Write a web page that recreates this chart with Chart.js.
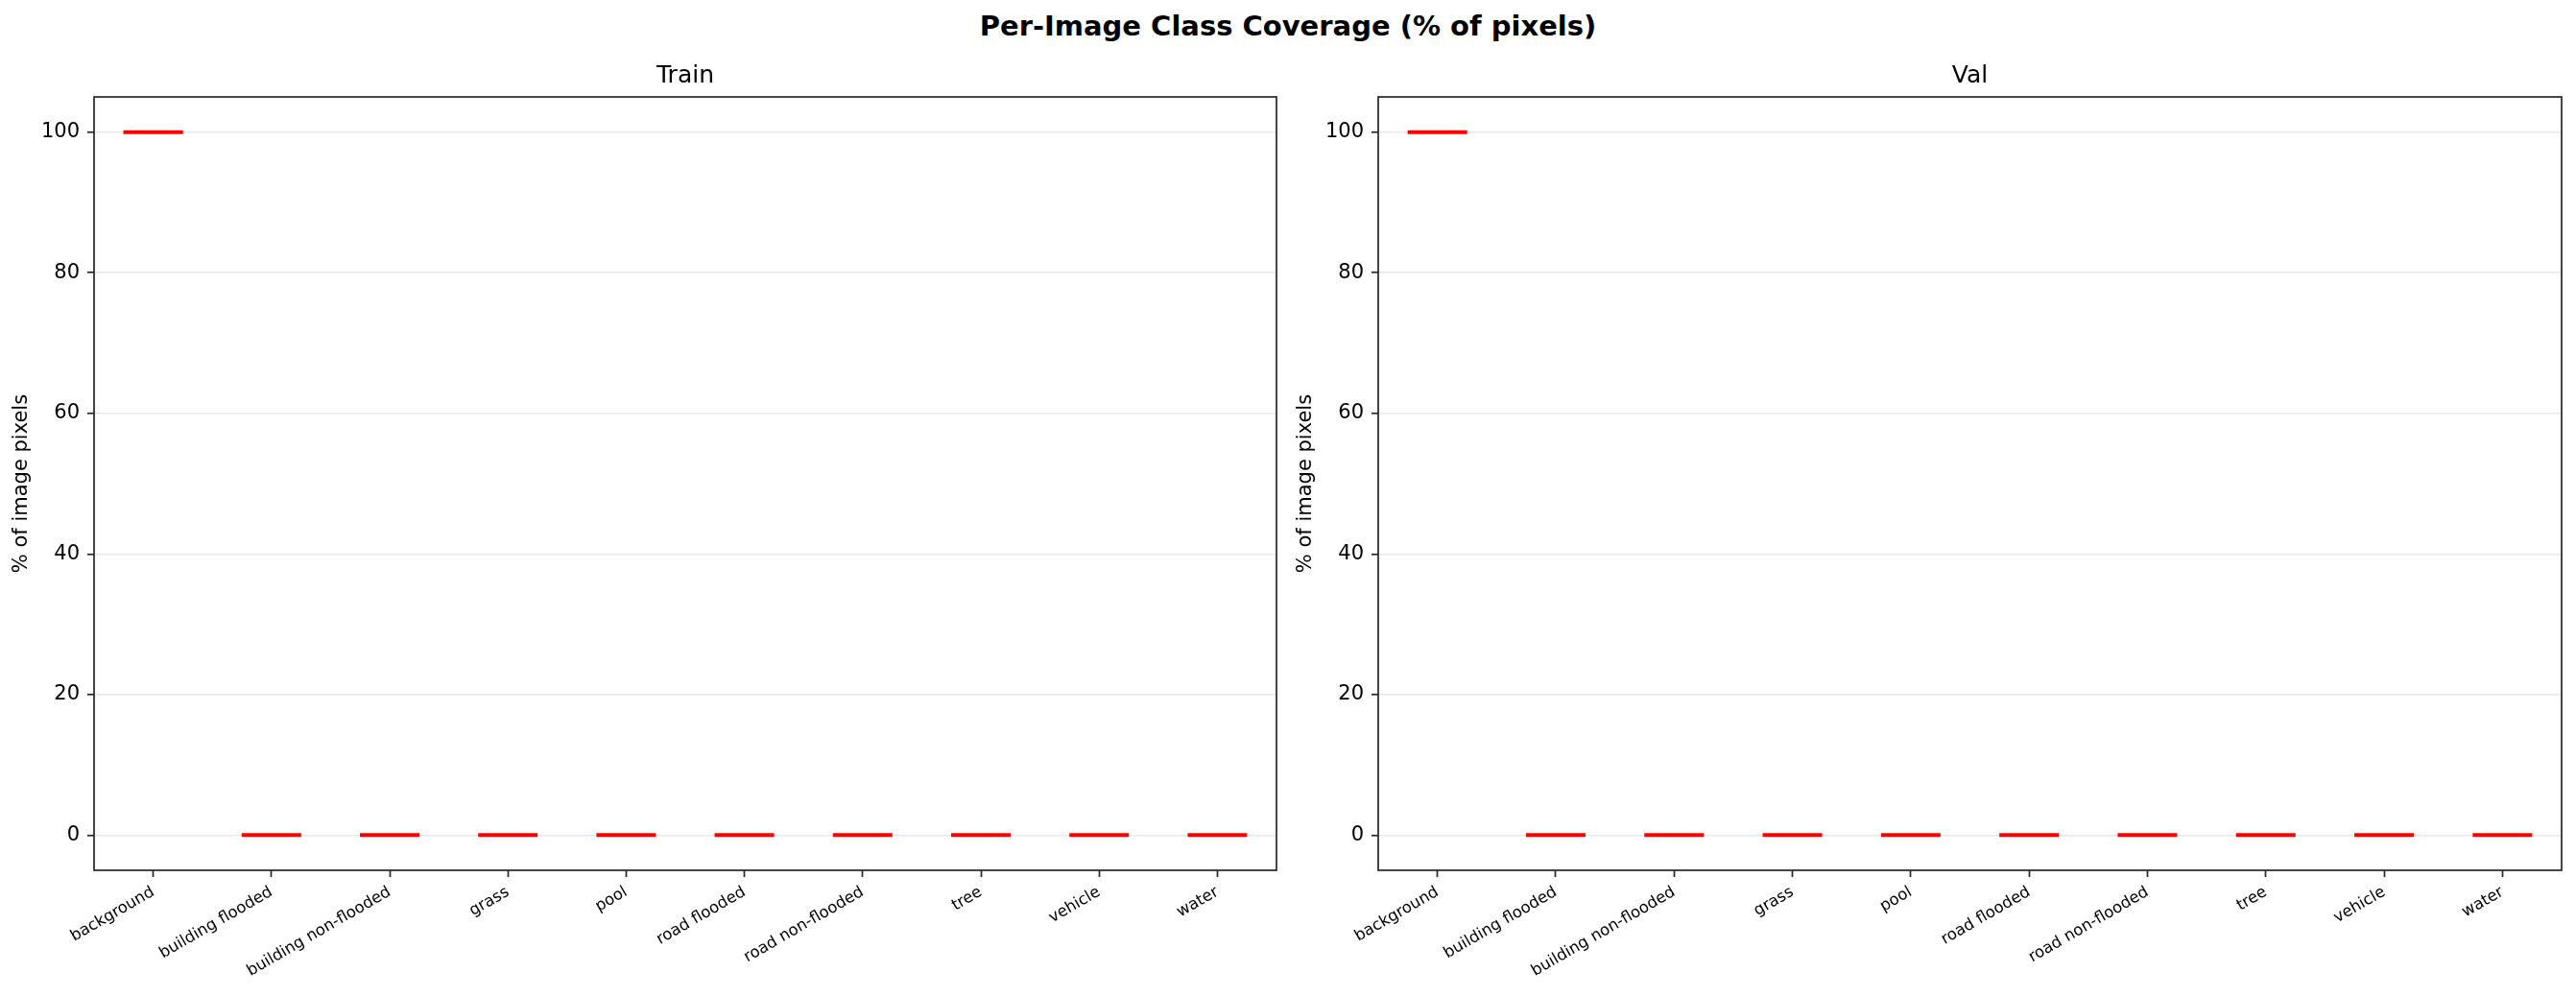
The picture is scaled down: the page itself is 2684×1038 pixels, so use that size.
<!DOCTYPE html>
<html>
<head>
<meta charset="utf-8">
<style>
    body { margin: 0; background: #ffffff; }
    .figure { position: relative; width: 2684px; height: 1038px; overflow: hidden; }
    .figure--title {
        position: absolute; left: 0; top: 13px; width: 2684px;
        text-align: center; font: bold 29px "DejaVu Sans"; line-height: 29px; color: #000;
    }
    .figure canvas { position: absolute; top: 0; }
    #train { left: 0; }
    #val { left: 1338px; }
</style>
</head>
<body>
<div class="figure">
    <div class="figure--title">Per-Image Class Coverage (% of pixels)</div>
    <canvas id="train" width="1342" height="1038"></canvas>
    <canvas id="val" width="1343" height="1038"></canvas>
</div>
<script src="https://cdn.jsdelivr.net/npm/chart.js"></script>
<script>
    //class names along the x axis
    const classNames = ['background', 'building flooded', 'building non-flooded', 'grass', 'pool',
        'road flooded', 'road non-flooded', 'tree', 'vehicle', 'water'];
    //median coverage per class (boxes collapse onto the median)
    const trainMedian = [100, 0, 0, 0, 0, 0, 0, 0, 0, 0];
    const valMedian = [100, 0, 0, 0, 0, 0, 0, 0, 0, 0];
    const yTicks = [0, 20, 40, 60, 80, 100];

    const frameColor = '#262626';

    //draw the axes frame on all four sides
    const frameBox = {
        id: 'frameBox',
        afterDraw(chart) {
            const {ctx, chartArea: a} = chart;
            ctx.save();
            ctx.strokeStyle = frameColor;
            ctx.lineWidth = 1.7;
            ctx.strokeRect(a.left, a.top, a.right - a.left, a.bottom - a.top);
            ctx.restore();
        }
    };

    function makePanel(canvasId, title, medians) {
        new Chart(document.getElementById(canvasId), {
            type: 'line',
            data: {
                labels: classNames,
                datasets: [{
                    data: medians,
                    showLine: false,
                    pointStyle: 'line',
                    pointRadius: 31,
                    pointHoverRadius: 31,
                    pointBorderWidth: 4,
                    pointHoverBorderWidth: 4,
                    pointBorderColor: '#ff0000',
                    borderColor: '#ff0000'
                }]
            },
            options: {
                responsive: false,
                devicePixelRatio: 1,
                animation: false,
                events: [],
                layout: { autoPadding: false, padding: { top: 0, right: 12, bottom: 0, left: 0 } },
                plugins: {
                    legend: { display: false },
                    tooltip: { enabled: false },
                    title: {
                        display: true,
                        fullSize: false,
                        text: title,
                        color: '#000000',
                        font: { family: 'DejaVu Sans', size: 25, weight: 'normal', lineHeight: 1.2 },
                        padding: { top: 64, bottom: 7 }
                    }
                },
                scales: {
                    x: {
                        type: 'category',
                        offset: true,
                        border: { display: false },
                        grid: {
                            offset: false,
                            drawOnChartArea: false,
                            drawTicks: true,
                            tickLength: 7,
                            tickColor: frameColor,
                            tickWidth: 1.7
                        },
                        ticks: {
                            color: '#000000',
                            font: { family: 'DejaVu Sans', size: 16.5 },
                            minRotation: 30,
                            maxRotation: 30,
                            autoSkip: false,
                            padding: 6
                        },
                        afterFit: (axis) => {
                            axis.height = 131;
                            axis.paddingLeft = 0;
                            axis.paddingRight = 0;
                        }
                    },
                    y: {
                        min: -5,
                        max: 105,
                        border: { display: false },
                        grid: {
                            color: '#e8e8e8',
                            lineWidth: 1.5,
                            drawTicks: true,
                            tickLength: 7,
                            tickColor: frameColor,
                            tickWidth: 1.7
                        },
                        ticks: {
                            color: '#000000',
                            font: { family: 'DejaVu Sans', size: 21 },
                            padding: 8
                        },
                        afterBuildTicks: (axis) => { axis.ticks = yTicks.map(v => ({ value: v })); },
                        title: {
                            display: true,
                            text: '% of image pixels',
                            color: '#000000',
                            font: { family: 'DejaVu Sans', size: 21 },
                            padding: { top: 10, bottom: 0 }
                        },
                        afterFit: (axis) => {
                            axis.width = 98;
                            axis.paddingTop = 0;
                            axis.paddingBottom = 0;
                        }
                    }
                }
            },
            plugins: [frameBox]
        });
    }

    makePanel('train', 'Train', trainMedian);
    makePanel('val', 'Val', valMedian);
</script>
</body>
</html>
